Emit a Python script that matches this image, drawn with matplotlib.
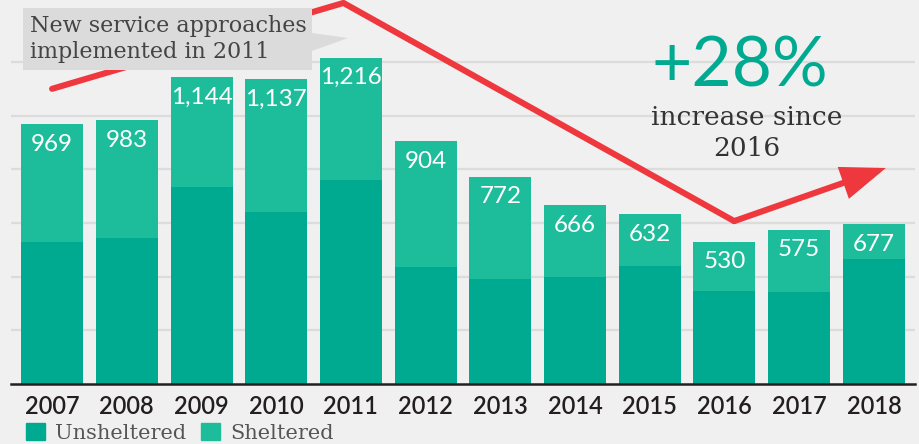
import matplotlib
matplotlib.use('Agg')
import matplotlib.pyplot as plt
import numpy as np
import matplotlib.patches as mpatches

# Data
years = ['2007', '2008', '2009', '2010', '2011', '2012',
         '2013', '2014', '2015', '2016', '2017', '2018']
totals = [969, 983, 1144, 1137, 1216, 904, 772, 666, 632, 530, 575, 677]
# bar segments as drawn (the 2018 bar is drawn shorter than its label)
unsheltered = [529, 544, 734, 641, 760, 436, 391, 399, 440, 347, 343, 466]
sheltered = [440, 439, 410, 496, 456, 468, 381, 267, 192, 183, 232, 130]

# trend line drawn over the bars (x = bar index, y = count)
trend_x = [0, 3.9, 9.13]
trend_y = [1100, 1420, 607]
arrow_tip = (11.16, 805)

# Colours
bg = '#f0f0f0'
dark_teal = '#00aa91'
light_teal = '#1dbd9b'
red = '#ee383e'
grid_col = '#dcdcdc'

W, H = 920, 444
fig = plt.figure(figsize=(W / 100, H / 100), dpi=100, facecolor=bg)
ax = fig.add_axes([11 / W, 1 - 384 / H, (915 - 11) / W, 384 / H])
ax.set_facecolor(bg)

x = np.arange(len(years))
bw = 0.83
ax.bar(x, unsheltered, bw, color=dark_teal, zorder=3, label='Unsheltered')
ax.bar(x, sheltered, bw, bottom=unsheltered, color=light_teal, zorder=3, label='Sheltered')

# totals at the top of each bar
tops = np.array(unsheltered) + np.array(sheltered)
for xi, top, t in zip(x, tops, totals):
    ax.annotate(f'{t:,}', (xi, top), xytext=(0, -14.5), textcoords='offset points',
                ha='center', va='center', color='white', fontsize=17.5,
                family='Lato', zorder=5)

ax.set_xlim(-0.55, 11.55)
ax.set_ylim(0, 1431)
ax.set_yticks([200, 400, 600, 800, 1000, 1200])
ax.yaxis.grid(True, color=grid_col, lw=1.6, zorder=0)
ax.tick_params(axis='y', left=False, labelleft=False)
ax.axhline(0, color='#231f20', lw=1.8, zorder=4, clip_on=False)
for s in ax.spines.values():
    s.set_visible(False)

ax.set_xticks(x)
ax.set_xticklabels(years, fontsize=17, family='Lato', fontweight='semibold', color='#231f20')
ax.tick_params(axis='x', length=0, pad=8)

# red trend line with arrow
ax.plot(trend_x, trend_y, color=red, lw=4.4, solid_joinstyle='miter',
        solid_capstyle='round', zorder=6, clip_on=False)
ax.annotate('', xy=arrow_tip, xytext=(trend_x[-1], trend_y[-1]),
            arrowprops=dict(arrowstyle='-|>,head_length=2.4,head_width=0.9',
                            color=red, lw=4.4, shrinkA=0, shrinkB=0,
                            joinstyle='miter'),
            zorder=6)

# callout box
def px(xp, yp):
    return (xp / W, 1 - yp / H)

callout = mpatches.Polygon([px(23, 8), px(312, 8), px(312, 33), px(348, 38),
                            px(312, 51), px(312, 70), px(23, 70)],
                           closed=True, transform=fig.transFigure,
                           facecolor='#dcdbdb', edgecolor='none', zorder=7)
ax.add_patch(callout)
callout.set_clip_on(False)
fig.text(30 / W, 1 - 39 / H, 'New service approaches\nimplemented in 2011',
         ha='left', va='center', fontsize=16, family='DejaVu Serif',
         color='#444444', linespacing=1.25, zorder=8)

# big percentage
ax.text(9.21, 1181, '+28%', ha='center', va='center', fontsize=50,
        family='Lato', fontweight='normal', color=dark_teal, zorder=6)
ax.text(9.3, 934, 'increase since\n2016', ha='center', va='center', fontsize=19,
        family='DejaVu Serif', color='#333333', linespacing=1.3, zorder=6)

# legend
handles = [mpatches.Patch(color=dark_teal, label='Unsheltered'),
           mpatches.Patch(color=light_teal, label='Sheltered')]
leg = fig.legend(handles=handles, loc='center left', bbox_to_anchor=(18 / W, 1 - 433 / H),
                 ncol=2, frameon=False, handlelength=0.9, handleheight=0.9,
                 handletextpad=0.5, columnspacing=0.7, borderaxespad=0,
                 prop={'family': 'DejaVu Serif', 'size': 15})
for t in leg.get_texts():
    t.set_color('#555555')

plt.savefig('out.png', dpi=100, facecolor=bg)
